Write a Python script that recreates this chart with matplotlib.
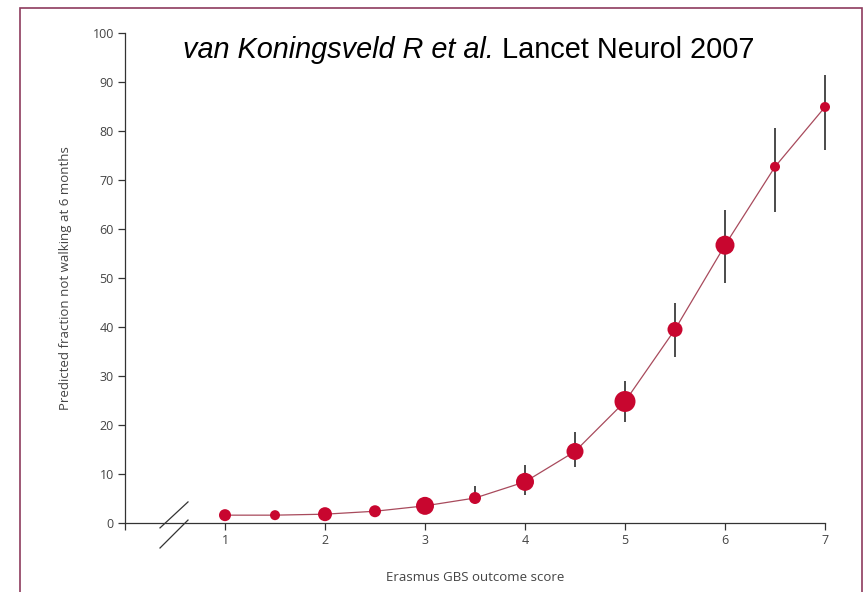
import matplotlib.pyplot as plt
from matplotlib.patches import Rectangle
import numpy as np

# Erasmus GBS outcome score vs predicted % not walking at 6 months
score = [1, 1.5, 2, 2.5, 3, 3.5, 4, 4.5, 5, 5.5, 6, 6.5, 7]
pred = [1.6, 1.6, 1.8, 2.4, 3.5, 5.1, 8.4, 14.6, 24.8, 39.5, 56.7, 72.7, 84.9]
ci_low = [1.0, 1.1, 1.2, 1.8, 2.6, 4.0, 5.7, 11.4, 20.6, 33.9, 49.0, 63.5, 76.1]
ci_high = [2.4, 2.2, 2.6, 3.2, 4.5, 7.6, 11.8, 18.6, 28.9, 44.9, 63.9, 80.6, 91.4]
dot_px = [12, 10, 14, 12, 18, 12, 18, 17, 21, 15, 19, 10, 10]  # marker diameter in pixels

xticks = [0, 1, 2, 3, 4, 5, 6, 7]
xticklabels = ['', '1', '2', '3', '4', '5', '6', '7']
yticks = list(range(0, 101, 10))

dpi = 100
fig = plt.figure(figsize=(8.64, 5.92), dpi=dpi)
fig.patch.set_facecolor('white')
ax = fig.add_axes([125/864, 1-523/592, 700/864, 490/592])

txt = '#444444'
axcol = '#333333'
font = ['Open Sans', 'DejaVu Sans']

pred = np.array(pred)
yerr = [pred - np.array(ci_low), np.array(ci_high) - pred]
ax.errorbar(score, pred, yerr=yerr, fmt='none', ecolor='#1a1a1a', elinewidth=1.1, capsize=0, zorder=2, clip_on=False)
ax.plot(score, pred, color='#a84a5c', lw=0.9, zorder=3, clip_on=False)
sizes = [(d*72/dpi)**2 for d in dot_px]
ax.scatter(score, pred, s=sizes, color='#c8062f', edgecolors='none', zorder=4, clip_on=False)

ax.set_xlim(0, 7)
ax.set_ylim(0, 100)
ax.set_xticks(xticks)
ax.set_xticklabels(xticklabels, fontfamily=font, fontsize=9, color=txt)
ax.set_yticks(yticks)
ax.set_yticklabels([str(v) for v in yticks], fontfamily=font, fontsize=9, color=txt)
ax.tick_params(axis='both', direction='out', length=5, width=0.9, color=axcol, pad=3)
for s in ['top', 'right']:
    ax.spines[s].set_visible(False)
for s in ['left', 'bottom']:
    ax.spines[s].set_color(axcol)
    ax.spines[s].set_linewidth(0.9)
ax.patch.set_alpha(0)

# axis break marks between 0 and 1
ax.plot([0.35, 0.63], [-1.0, 4.3], color=axcol, lw=0.9, clip_on=False)
ax.plot([0.35, 0.63], [-5.1, 0.6], color=axcol, lw=0.9, clip_on=False)

ax.set_xlabel('Erasmus GBS outcome score', fontfamily=font, fontsize=9.5, color=txt)
ax.xaxis.set_label_coords(350/700, -48/490)
ax.set_ylabel('Predicted fraction not walking at 6 months', fontfamily=font, fontsize=9.5, color=txt)
ax.yaxis.set_label_coords(-53/700, 245/490)

# citation line
t1 = fig.text(183/864, 1-58/592, 'van Koningsveld R et al.', fontfamily='Liberation Sans',
              fontstyle='italic', fontsize=20.8, color='black', va='baseline')
ax.annotate(' Lancet Neurol 2007', xy=(1, 0), xycoords=t1, va='bottom', ha='left',
            fontfamily='Liberation Sans', fontsize=20.8, color='black', annotation_clip=False)

# outer frame
fig.patches.append(Rectangle((20/864, -0.05), 842/864, 1-8/592+0.05, transform=fig.transFigure,
                             fill=False, edgecolor='#8e3b5e', lw=1.2, figure=fig))

fig.savefig('out.png', dpi=dpi)
